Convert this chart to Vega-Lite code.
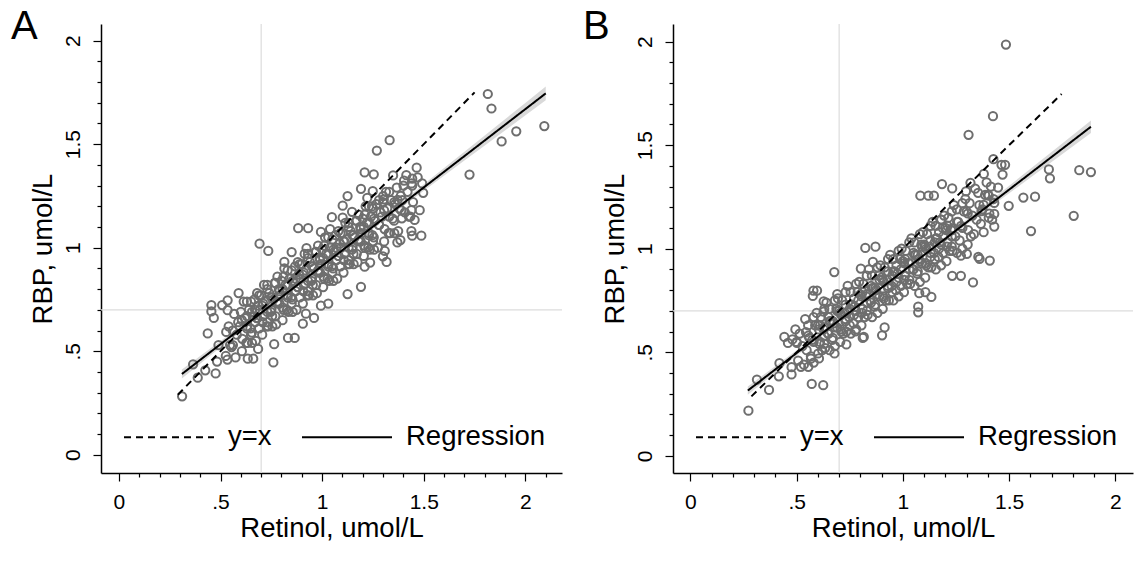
{
"$schema":"https://vega.github.io/schema/vega-lite/v6.json",
"background":"white",
"padding":{"left":11,"top":7,"right":8,"bottom":10},
"spacing":19,
"datasets":{
"ptsA":[
{"x":0.54,"y":0.62},{"x":0.547,"y":0.53},{"x":0.534,"y":0.46},{"x":0.56,"y":0.60},{"x":0.567,"y":0.68},{"x":0.554,"y":0.52},{"x":0.58,"y":0.58},{"x":0.587,"y":0.64},{"x":0.574,"y":0.47},{"x":0.60,"y":0.69},{"x":0.607,"y":0.56},{"x":0.594,"y":0.62},{"x":0.62,"y":0.66},{"x":0.627,"y":0.54},{"x":0.614,"y":0.74},{"x":0.64,"y":0.70},{"x":0.647,"y":0.61},{"x":0.634,"y":0.54},{"x":0.66,"y":0.67},{"x":0.667,"y":0.75},{"x":0.654,"y":0.59},{"x":0.68,"y":0.66},{"x":0.687,"y":0.72},{"x":0.674,"y":0.55},{"x":0.70,"y":0.77},{"x":0.707,"y":0.64},{"x":0.694,"y":0.70},{"x":0.72,"y":0.74},{"x":0.727,"y":0.62},{"x":0.714,"y":0.82},{"x":0.74,"y":0.78},{"x":0.747,"y":0.69},{"x":0.734,"y":0.62},{"x":0.76,"y":0.75},{"x":0.767,"y":0.83},{"x":0.754,"y":0.67},{"x":0.78,"y":0.74},{"x":0.787,"y":0.80},{"x":0.774,"y":0.63},{"x":0.80,"y":0.84},{"x":0.807,"y":0.71},{"x":0.794,"y":0.77},{"x":0.82,"y":0.82},{"x":0.827,"y":0.70},{"x":0.814,"y":0.90},{"x":0.84,"y":0.85},{"x":0.847,"y":0.76},{"x":0.834,"y":0.69},{"x":0.86,"y":0.83},{"x":0.867,"y":0.91},{"x":0.854,"y":0.75},{"x":0.88,"y":0.81},{"x":0.887,"y":0.87},{"x":0.874,"y":0.70},{"x":0.90,"y":0.92},{"x":0.907,"y":0.79},{"x":0.894,"y":0.85},{"x":0.92,"y":0.89},{"x":0.927,"y":0.77},{"x":0.914,"y":0.97},{"x":0.94,"y":0.93},{"x":0.947,"y":0.84},{"x":0.934,"y":0.77},{"x":0.96,"y":0.90},{"x":0.967,"y":0.98},{"x":0.954,"y":0.82},{"x":0.98,"y":0.89},{"x":0.987,"y":0.95},{"x":0.974,"y":0.78},{"x":1.00,"y":0.99},{"x":1.007,"y":0.86},{"x":0.994,"y":0.92},{"x":1.02,"y":0.97},{"x":1.027,"y":0.85},{"x":1.014,"y":1.05},{"x":1.04,"y":1.00},{"x":1.047,"y":0.91},{"x":1.034,"y":0.84},{"x":1.06,"y":0.98},{"x":1.067,"y":1.06},{"x":1.054,"y":0.90},{"x":1.08,"y":0.96},{"x":1.087,"y":1.02},{"x":1.074,"y":0.85},{"x":1.10,"y":1.07},{"x":1.107,"y":0.94},{"x":1.094,"y":1.00},{"x":1.12,"y":1.04},{"x":1.127,"y":0.92},{"x":1.114,"y":1.12},{"x":1.14,"y":1.08},{"x":1.147,"y":0.99},{"x":1.134,"y":0.92},{"x":1.16,"y":1.05},{"x":1.167,"y":1.13},{"x":1.154,"y":0.97},{"x":1.18,"y":1.04},{"x":1.187,"y":1.10},{"x":1.174,"y":0.93},{"x":1.20,"y":1.14},{"x":1.207,"y":1.01},{"x":1.194,"y":1.07},{"x":1.22,"y":1.12},{"x":1.227,"y":1.00},{"x":1.214,"y":1.20},{"x":1.24,"y":1.15},{"x":1.247,"y":1.06},{"x":1.234,"y":0.99},{"x":1.26,"y":1.13},{"x":1.267,"y":1.21},{"x":1.254,"y":1.05},{"x":1.28,"y":1.11},{"x":1.287,"y":1.17},{"x":1.274,"y":1.00},{"x":1.30,"y":1.22},{"x":1.307,"y":1.09},{"x":1.294,"y":1.15},{"x":1.32,"y":1.19},{"x":1.327,"y":1.07},{"x":1.314,"y":1.27},{"x":1.34,"y":1.23},{"x":1.347,"y":1.14},{"x":1.334,"y":1.07},{"x":1.36,"y":1.21},{"x":1.367,"y":1.29},{"x":1.354,"y":1.13},{"x":1.38,"y":1.19},{"x":1.387,"y":1.25},{"x":1.374,"y":1.08},{"x":1.40,"y":1.30},{"x":1.407,"y":1.17},{"x":1.394,"y":1.23},{"x":1.42,"y":1.27},{"x":1.427,"y":1.15},{"x":1.414,"y":1.35},{"x":1.44,"y":1.31},{"x":1.447,"y":1.22},{"x":1.434,"y":1.15},
{"x":0.63,"y":0.61},{"x":0.63,"y":0.67},{"x":0.65,"y":0.58},{"x":0.65,"y":0.74},{"x":0.67,"y":0.64},{"x":0.67,"y":0.70},{"x":0.69,"y":0.61},{"x":0.69,"y":0.77},{"x":0.71,"y":0.67},{"x":0.71,"y":0.73},{"x":0.73,"y":0.64},{"x":0.73,"y":0.80},{"x":0.75,"y":0.70},{"x":0.75,"y":0.76},{"x":0.77,"y":0.67},{"x":0.77,"y":0.83},{"x":0.79,"y":0.73},{"x":0.79,"y":0.79},{"x":0.81,"y":0.70},{"x":0.81,"y":0.86},{"x":0.83,"y":0.76},{"x":0.83,"y":0.82},{"x":0.85,"y":0.73},{"x":0.85,"y":0.89},{"x":0.87,"y":0.79},{"x":0.87,"y":0.85},{"x":0.89,"y":0.76},{"x":0.89,"y":0.92},{"x":0.91,"y":0.82},{"x":0.91,"y":0.88},{"x":0.93,"y":0.79},{"x":0.93,"y":0.95},{"x":0.95,"y":0.85},{"x":0.95,"y":0.91},{"x":0.97,"y":0.82},{"x":0.97,"y":0.98},{"x":0.99,"y":0.88},{"x":0.99,"y":0.94},{"x":1.01,"y":0.85},{"x":1.01,"y":1.01},{"x":1.03,"y":0.91},{"x":1.03,"y":0.97},{"x":1.05,"y":0.88},{"x":1.05,"y":1.04},{"x":1.07,"y":0.94},{"x":1.07,"y":1.00},{"x":1.09,"y":0.91},{"x":1.09,"y":1.07},{"x":1.11,"y":0.97},{"x":1.11,"y":1.03},{"x":1.13,"y":0.94},{"x":1.13,"y":1.10},{"x":1.15,"y":1.00},{"x":1.15,"y":1.06},{"x":1.17,"y":0.97},{"x":1.17,"y":1.13},{"x":1.19,"y":1.03},{"x":1.19,"y":1.09},{"x":1.21,"y":1.00},{"x":1.21,"y":1.16},{"x":1.23,"y":1.06},{"x":1.23,"y":1.12},{"x":1.25,"y":1.03},{"x":1.25,"y":1.19},
{"x":0.605,"y":0.65},{"x":0.605,"y":0.50},{"x":0.63,"y":0.74},{"x":0.63,"y":0.62},{"x":0.655,"y":0.69},{"x":0.655,"y":0.54},{"x":0.68,"y":0.78},{"x":0.68,"y":0.66},{"x":0.705,"y":0.72},{"x":0.705,"y":0.58},{"x":0.73,"y":0.82},{"x":0.73,"y":0.69},{"x":0.755,"y":0.76},{"x":0.755,"y":0.62},{"x":0.78,"y":0.86},{"x":0.78,"y":0.73},{"x":0.805,"y":0.80},{"x":0.805,"y":0.65},{"x":0.83,"y":0.89},{"x":0.83,"y":0.77},{"x":0.855,"y":0.84},{"x":0.855,"y":0.69},{"x":0.88,"y":0.93},{"x":0.88,"y":0.81},{"x":0.905,"y":0.87},{"x":0.905,"y":0.73},{"x":0.93,"y":0.97},{"x":0.93,"y":0.84},{"x":0.955,"y":0.91},{"x":0.955,"y":0.77},{"x":0.98,"y":1.01},{"x":0.98,"y":0.88},{"x":1.005,"y":0.95},{"x":1.005,"y":0.81},{"x":1.03,"y":1.05},{"x":1.03,"y":0.92},{"x":1.055,"y":0.99},{"x":1.055,"y":0.84},{"x":1.08,"y":1.08},{"x":1.08,"y":0.96},{"x":1.105,"y":1.03},{"x":1.105,"y":0.88},{"x":1.13,"y":1.12},{"x":1.13,"y":1.00},{"x":1.155,"y":1.06},{"x":1.155,"y":0.92},{"x":1.18,"y":1.16},{"x":1.18,"y":1.03},{"x":1.205,"y":1.10},{"x":1.205,"y":0.96},{"x":1.23,"y":1.20},{"x":1.23,"y":1.07},{"x":1.255,"y":1.14},{"x":1.255,"y":0.99},{"x":1.28,"y":1.23},{"x":1.28,"y":1.11},{"x":1.305,"y":1.18},{"x":1.305,"y":1.03},{"x":1.33,"y":1.27},{"x":1.33,"y":1.15},{"x":1.355,"y":1.22},{"x":1.355,"y":1.07},
{"x":1.815,"y":1.742},{"x":1.833,"y":1.672},{"x":2.093,"y":1.587},{"x":1.955,"y":1.562},{"x":1.883,"y":1.513},{"x":1.725,"y":1.353},{"x":1.332,"y":1.519},{"x":1.269,"y":1.469},{"x":1.209,"y":1.363},{"x":1.254,"y":1.354},{"x":1.349,"y":1.349},{"x":1.465,"y":1.386},{"x":1.443,"y":1.333},{"x":1.47,"y":1.34},{"x":1.403,"y":1.324},{"x":1.191,"y":1.284},{"x":1.249,"y":1.273},{"x":1.492,"y":1.31},{"x":1.497,"y":1.265},{"x":1.443,"y":1.30},{"x":1.125,"y":1.249},{"x":1.222,"y":1.24},{"x":1.30,"y":1.249},{"x":1.303,"y":1.233},{"x":1.101,"y":1.203},{"x":1.147,"y":1.173},{"x":1.245,"y":1.199},{"x":1.371,"y":1.231},{"x":1.389,"y":1.18},{"x":1.439,"y":1.181},{"x":1.48,"y":1.181},{"x":1.455,"y":1.134},{"x":1.392,"y":1.142},{"x":1.439,"y":1.08},{"x":1.488,"y":1.058},{"x":1.443,"y":1.058},{"x":1.385,"y":1.037},{"x":1.37,"y":1.025},{"x":1.308,"y":0.984},{"x":1.299,"y":0.958},{"x":1.317,"y":0.931},{"x":1.236,"y":0.928},{"x":1.209,"y":0.908},{"x":1.191,"y":0.811},{"x":1.125,"y":0.776},{"x":1.048,"y":1.147},{"x":1.101,"y":1.145},{"x":0.994,"y":1.076},{"x":1.039,"y":1.09},{"x":0.882,"y":1.094},{"x":0.931,"y":1.094},{"x":0.692,"y":1.019},{"x":0.735,"y":0.984},{"x":0.85,"y":0.979},{"x":0.923,"y":0.998},{"x":0.814,"y":0.931},{"x":0.589,"y":0.781},{"x":0.508,"y":0.723},{"x":0.535,"y":0.746},{"x":0.455,"y":0.723},{"x":0.535,"y":0.698},{"x":0.455,"y":0.692},{"x":0.467,"y":0.661},{"x":0.437,"y":0.586},{"x":0.528,"y":0.593},{"x":0.365,"y":0.437},{"x":0.388,"y":0.372},{"x":0.311,"y":0.282},{"x":0.425,"y":0.408},{"x":0.476,"y":0.393},{"x":0.483,"y":0.45},{"x":0.49,"y":0.53},{"x":0.526,"y":0.477},{"x":0.561,"y":0.53},{"x":0.634,"y":0.464},{"x":0.661,"y":0.464},{"x":0.685,"y":0.511},{"x":0.76,"y":0.446},{"x":0.764,"y":0.534},{"x":0.832,"y":0.564},{"x":0.865,"y":0.564},{"x":0.905,"y":0.633},{"x":0.96,"y":0.661},{"x":0.994,"y":0.72},{"x":1.03,"y":0.73},{"x":0.92,"y":0.681}
],
"ptsB":[
{"x":0.50,"y":0.55},{"x":0.507,"y":0.46},{"x":0.494,"y":0.61},{"x":0.52,"y":0.43},{"x":0.527,"y":0.53},{"x":0.514,"y":0.59},{"x":0.54,"y":0.66},{"x":0.547,"y":0.51},{"x":0.534,"y":0.44},{"x":0.56,"y":0.57},{"x":0.567,"y":0.48},{"x":0.554,"y":0.63},{"x":0.58,"y":0.45},{"x":0.587,"y":0.63},{"x":0.574,"y":0.56},{"x":0.60,"y":0.63},{"x":0.607,"y":0.54},{"x":0.594,"y":0.69},{"x":0.62,"y":0.51},{"x":0.627,"y":0.61},{"x":0.614,"y":0.67},{"x":0.64,"y":0.74},{"x":0.647,"y":0.59},{"x":0.634,"y":0.52},{"x":0.66,"y":0.65},{"x":0.667,"y":0.56},{"x":0.654,"y":0.71},{"x":0.68,"y":0.53},{"x":0.687,"y":0.71},{"x":0.674,"y":0.64},{"x":0.70,"y":0.70},{"x":0.707,"y":0.61},{"x":0.694,"y":0.76},{"x":0.72,"y":0.59},{"x":0.727,"y":0.69},{"x":0.714,"y":0.75},{"x":0.74,"y":0.82},{"x":0.747,"y":0.67},{"x":0.734,"y":0.60},{"x":0.76,"y":0.73},{"x":0.767,"y":0.64},{"x":0.754,"y":0.79},{"x":0.78,"y":0.61},{"x":0.787,"y":0.79},{"x":0.774,"y":0.72},{"x":0.80,"y":0.78},{"x":0.807,"y":0.69},{"x":0.794,"y":0.84},{"x":0.82,"y":0.67},{"x":0.827,"y":0.77},{"x":0.814,"y":0.83},{"x":0.84,"y":0.90},{"x":0.847,"y":0.75},{"x":0.834,"y":0.68},{"x":0.86,"y":0.81},{"x":0.867,"y":0.72},{"x":0.854,"y":0.87},{"x":0.88,"y":0.69},{"x":0.887,"y":0.87},{"x":0.874,"y":0.80},{"x":0.90,"y":0.86},{"x":0.907,"y":0.77},{"x":0.894,"y":0.92},{"x":0.92,"y":0.75},{"x":0.927,"y":0.85},{"x":0.914,"y":0.91},{"x":0.94,"y":0.97},{"x":0.947,"y":0.82},{"x":0.934,"y":0.75},{"x":0.96,"y":0.89},{"x":0.967,"y":0.80},{"x":0.954,"y":0.95},{"x":0.98,"y":0.77},{"x":0.987,"y":0.95},{"x":0.974,"y":0.88},{"x":1.00,"y":0.94},{"x":1.007,"y":0.85},{"x":0.994,"y":1.00},{"x":1.02,"y":0.83},{"x":1.027,"y":0.93},{"x":1.014,"y":0.99},{"x":1.04,"y":1.05},{"x":1.047,"y":0.90},{"x":1.034,"y":0.83},{"x":1.06,"y":0.97},{"x":1.067,"y":0.88},{"x":1.054,"y":1.03},{"x":1.08,"y":0.84},{"x":1.087,"y":1.02},{"x":1.074,"y":0.95},{"x":1.10,"y":1.02},{"x":1.107,"y":0.93},{"x":1.094,"y":1.08},{"x":1.12,"y":0.91},{"x":1.127,"y":1.01},{"x":1.114,"y":1.07},{"x":1.14,"y":1.13},{"x":1.147,"y":0.98},{"x":1.134,"y":0.91},{"x":1.16,"y":1.05},{"x":1.167,"y":0.96},{"x":1.154,"y":1.11},{"x":1.18,"y":0.92},{"x":1.187,"y":1.10},{"x":1.174,"y":1.03},{"x":1.20,"y":1.10},{"x":1.207,"y":1.01},{"x":1.194,"y":1.16},{"x":1.22,"y":0.99},{"x":1.227,"y":1.09},{"x":1.214,"y":1.15},{"x":1.24,"y":1.21},{"x":1.247,"y":1.06},{"x":1.234,"y":0.99},{"x":1.26,"y":1.13},{"x":1.267,"y":1.04},{"x":1.254,"y":1.19},{"x":1.28,"y":1.00},{"x":1.287,"y":1.18},{"x":1.274,"y":1.11},{"x":1.30,"y":1.18},{"x":1.307,"y":1.09},{"x":1.294,"y":1.24},{"x":1.32,"y":1.06},{"x":1.327,"y":1.16},{"x":1.314,"y":1.22},{"x":1.34,"y":1.29},{"x":1.347,"y":1.14},{"x":1.334,"y":1.07},{"x":1.36,"y":1.21},{"x":1.367,"y":1.12},{"x":1.354,"y":1.27},{"x":1.38,"y":1.08},{"x":1.387,"y":1.26},{"x":1.374,"y":1.19},{"x":1.40,"y":1.26},{"x":1.407,"y":1.17},{"x":1.394,"y":1.32},{"x":1.42,"y":1.14},{"x":1.427,"y":1.24},{"x":1.414,"y":1.30},
{"x":0.61,"y":0.55},{"x":0.61,"y":0.63},{"x":0.63,"y":0.62},{"x":0.63,"y":0.54},{"x":0.65,"y":0.59},{"x":0.65,"y":0.67},{"x":0.67,"y":0.65},{"x":0.67,"y":0.57},{"x":0.69,"y":0.62},{"x":0.69,"y":0.70},{"x":0.71,"y":0.68},{"x":0.71,"y":0.60},{"x":0.73,"y":0.65},{"x":0.73,"y":0.73},{"x":0.75,"y":0.71},{"x":0.75,"y":0.63},{"x":0.77,"y":0.68},{"x":0.77,"y":0.76},{"x":0.79,"y":0.75},{"x":0.79,"y":0.67},{"x":0.81,"y":0.71},{"x":0.81,"y":0.79},{"x":0.83,"y":0.78},{"x":0.83,"y":0.70},{"x":0.85,"y":0.74},{"x":0.85,"y":0.82},{"x":0.87,"y":0.81},{"x":0.87,"y":0.73},{"x":0.89,"y":0.77},{"x":0.89,"y":0.85},{"x":0.91,"y":0.84},{"x":0.91,"y":0.76},{"x":0.93,"y":0.81},{"x":0.93,"y":0.89},{"x":0.95,"y":0.87},{"x":0.95,"y":0.79},{"x":0.97,"y":0.84},{"x":0.97,"y":0.92},{"x":0.99,"y":0.90},{"x":0.99,"y":0.82},{"x":1.01,"y":0.87},{"x":1.01,"y":0.95},{"x":1.03,"y":0.93},{"x":1.03,"y":0.85},{"x":1.05,"y":0.90},{"x":1.05,"y":0.98},{"x":1.07,"y":0.97},{"x":1.07,"y":0.89},{"x":1.09,"y":0.93},{"x":1.09,"y":1.01},{"x":1.11,"y":1.00},{"x":1.11,"y":0.92},{"x":1.13,"y":0.96},{"x":1.13,"y":1.04},{"x":1.15,"y":1.03},{"x":1.15,"y":0.95},{"x":1.17,"y":1.00},{"x":1.17,"y":1.08},{"x":1.19,"y":1.06},{"x":1.19,"y":0.98},{"x":1.21,"y":1.03},{"x":1.21,"y":1.11},{"x":1.23,"y":1.09},{"x":1.23,"y":1.01},
{"x":0.555,"y":0.58},{"x":0.555,"y":0.43},{"x":0.58,"y":0.67},{"x":0.58,"y":0.55},{"x":0.605,"y":0.61},{"x":0.605,"y":0.47},{"x":0.63,"y":0.71},{"x":0.63,"y":0.58},{"x":0.655,"y":0.65},{"x":0.655,"y":0.51},{"x":0.68,"y":0.75},{"x":0.68,"y":0.62},{"x":0.705,"y":0.69},{"x":0.705,"y":0.55},{"x":0.73,"y":0.79},{"x":0.73,"y":0.66},{"x":0.755,"y":0.73},{"x":0.755,"y":0.59},{"x":0.78,"y":0.83},{"x":0.78,"y":0.70},{"x":0.805,"y":0.77},{"x":0.805,"y":0.63},{"x":0.83,"y":0.87},{"x":0.83,"y":0.74},{"x":0.855,"y":0.81},{"x":0.855,"y":0.67},{"x":0.88,"y":0.91},{"x":0.88,"y":0.78},{"x":0.905,"y":0.85},{"x":0.905,"y":0.71},{"x":0.93,"y":0.95},{"x":0.93,"y":0.82},{"x":0.955,"y":0.89},{"x":0.955,"y":0.75},{"x":0.98,"y":0.99},{"x":0.98,"y":0.86},{"x":1.005,"y":0.93},{"x":1.005,"y":0.79},{"x":1.03,"y":1.03},{"x":1.03,"y":0.90},{"x":1.055,"y":0.97},{"x":1.055,"y":0.82},{"x":1.08,"y":1.07},{"x":1.08,"y":0.94},{"x":1.105,"y":1.01},{"x":1.105,"y":0.86},{"x":1.13,"y":1.11},{"x":1.13,"y":0.98},{"x":1.155,"y":1.05},{"x":1.155,"y":0.90},{"x":1.18,"y":1.14},{"x":1.18,"y":1.02},{"x":1.205,"y":1.09},{"x":1.205,"y":0.94},{"x":1.23,"y":1.18},{"x":1.23,"y":1.06},{"x":1.255,"y":1.13},{"x":1.255,"y":0.98},{"x":1.28,"y":1.22},{"x":1.28,"y":1.10},{"x":1.305,"y":1.17},{"x":1.305,"y":1.02},
{"x":1.485,"y":1.986},{"x":1.424,"y":1.64},{"x":1.309,"y":1.55},{"x":1.426,"y":1.432},{"x":1.464,"y":1.405},{"x":1.481,"y":1.405},{"x":1.469,"y":1.358},{"x":1.381,"y":1.361},{"x":1.687,"y":1.383},{"x":1.692,"y":1.34},{"x":1.83,"y":1.379},{"x":1.885,"y":1.37},{"x":1.804,"y":1.159},{"x":1.567,"y":1.247},{"x":1.622,"y":1.251},{"x":1.603,"y":1.085},{"x":1.498,"y":1.207},{"x":1.43,"y":1.168},{"x":1.43,"y":1.107},{"x":1.404,"y":1.15},{"x":1.37,"y":1.182},{"x":1.409,"y":0.943},{"x":1.361,"y":0.951},{"x":1.355,"y":0.96},{"x":1.33,"y":0.837},{"x":1.273,"y":0.869},{"x":1.232,"y":0.869},{"x":1.301,"y":0.975},{"x":1.273,"y":0.966},{"x":1.184,"y":1.312},{"x":1.232,"y":1.291},{"x":1.146,"y":1.256},{"x":1.082,"y":1.256},{"x":1.12,"y":1.256},{"x":1.318,"y":1.318},{"x":1.297,"y":1.277},{"x":1.38,"y":1.212},{"x":1.43,"y":1.221},{"x":1.404,"y":1.256},{"x":1.448,"y":1.295},{"x":1.077,"y":0.785},{"x":1.072,"y":0.693},{"x":1.072,"y":0.72},{"x":1.134,"y":0.767},{"x":1.106,"y":0.79},{"x":0.902,"y":0.582},{"x":0.914,"y":0.62},{"x":0.816,"y":0.574},{"x":0.823,"y":1.004},{"x":0.871,"y":1.01},{"x":0.859,"y":0.936},{"x":0.802,"y":0.904},{"x":0.677,"y":0.887},{"x":0.691,"y":0.781},{"x":0.576,"y":0.772},{"x":0.579,"y":0.798},{"x":0.596,"y":0.798},{"x":0.627,"y":0.746},{"x":0.442,"y":0.574},{"x":0.459,"y":0.545},{"x":0.48,"y":0.562},{"x":0.501,"y":0.545},{"x":0.544,"y":0.597},{"x":0.419,"y":0.447},{"x":0.476,"y":0.393},{"x":0.476,"y":0.428},{"x":0.416,"y":0.384},{"x":0.37,"y":0.318},{"x":0.313,"y":0.368},{"x":0.273,"y":0.218},{"x":0.571,"y":0.347},{"x":0.625,"y":0.341},{"x":0.567,"y":0.469},{"x":0.601,"y":0.494},{"x":0.678,"y":0.494},{"x":0.734,"y":0.538},{"x":0.777,"y":0.601},{"x":0.811,"y":0.569},{"x":0.627,"y":0.696},{"x":1.18,"y":1.141},{"x":1.232,"y":1.098}
],
"fitA":[{"x":0.31,"lo":0.368,"hi":0.412},{"x":0.6,"lo":0.596,"hi":0.622},{"x":0.95,"lo":0.866,"hi":0.882},{"x":1.3,"lo":1.128,"hi":1.150},{"x":1.7,"lo":1.421,"hi":1.463},{"x":2.1,"lo":1.712,"hi":1.778}],
"fitB":[{"x":0.27,"lo":0.295,"hi":0.335},{"x":0.6,"lo":0.564,"hi":0.586},{"x":0.9,"lo":0.804,"hi":0.820},{"x":1.2,"lo":1.039,"hi":1.059},{"x":1.55,"lo":1.305,"hi":1.345},{"x":1.885,"lo":1.559,"hi":1.619}],
"linesA":[{"s":"y=x","x":0.29,"y":0.29},{"s":"y=x","x":1.75,"y":1.75},{"s":"Regression","x":0.31,"y":0.39},{"s":"Regression","x":2.1,"y":1.745}],
"linesB":[{"s":"y=x","x":0.287,"y":0.287},{"s":"y=x","x":1.747,"y":1.747},{"s":"Regression","x":0.27,"y":0.315},{"s":"Regression","x":1.885,"y":1.589}]
},
"resolve":{"scale":{"strokeDash":"independent"},"legend":{"strokeDash":"independent"}},
"hconcat":[
{
"width":461,"height":449,
"title":{"text":"A","anchor":"start","frame":"bounds","fontSize":40,"fontWeight":"normal","font":"Liberation Sans","color":"#000","offset":-24,"dx":-18},
"layer":[
{"data":{"values":[{}]},"mark":{"type":"rule","color":"#dcdcdc","strokeWidth":1.2},
 "encoding":{"x":{"datum":0.7,"type":"quantitative","scale":{"domain":[-0.088,2.18],"nice":false,"zero":false},"axis":{"orient":"bottom","values":[0.1,0.2,0.3,0.4,0.6,0.7,0.8,0.9,1.1,1.2,1.3,1.4,1.6,1.7,1.8,1.9,2.1],"labels":false,"title":null,"tickSize":4,"domain":false}}}},
{"data":{"values":[{}]},"mark":{"type":"rule","color":"#dcdcdc","strokeWidth":1.2},
 "encoding":{"y":{"datum":0.7,"type":"quantitative","scale":{"domain":[-0.088,2.08],"nice":false,"zero":false},"axis":{"orient":"left","values":[0.1,0.2,0.3,0.4,0.6,0.7,0.8,0.9,1.1,1.2,1.3,1.4,1.6,1.7,1.8,1.9],"labels":false,"title":null,"tickSize":4,"domain":false}}}},
{"data":{"name":"fitA"},"mark":{"type":"area","color":"#d9d9d9","interpolate":"monotone"},
 "encoding":{"x":{"field":"x","type":"quantitative","scale":{"domain":[-0.088,2.18],"nice":false,"zero":false},"axis":null},"y":{"field":"lo","type":"quantitative","scale":{"domain":[-0.088,2.08],"nice":false,"zero":false},"axis":null},"y2":{"field":"hi"}}},
{"data":{"name":"ptsA"},"mark":{"type":"point","shape":"circle","filled":false,"color":"#6e6e6e","size":68,"strokeWidth":2,"opacity":1},
 "encoding":{"x":{"field":"x","type":"quantitative","scale":{"domain":[-0.088,2.18],"nice":false,"zero":false},"axis":{"orient":"bottom","values":[0,0.5,1,1.5,2],"labelExpr":"datum.value == 0.5 ? '.5' : datum.value == 1.5 ? '1.5' : format(datum.value, 'd')","title":"Retinol, umol/L","tickSize":8,"labelPadding":10,"titlePadding":2}},
 "y":{"field":"y","type":"quantitative","scale":{"domain":[-0.088,2.08],"nice":false,"zero":false},"axis":{"orient":"left","values":[0,0.5,1,1.5,2],"labelExpr":"datum.value == 0.5 ? '.5' : datum.value == 1.5 ? '1.5' : format(datum.value, 'd')","title":"RBP, umol/L","labelAngle":-90,"labelAlign":"center","labelBaseline":"alphabetic","tickSize":8,"labelPadding":14,"titlePadding":5}}}},
{"data":{"name":"linesA"},"mark":{"type":"line","color":"#000","strokeWidth":2},
 "encoding":{"x":{"field":"x","type":"quantitative","scale":{"domain":[-0.088,2.18],"nice":false,"zero":false},"axis":null},"y":{"field":"y","type":"quantitative","scale":{"domain":[-0.088,2.08],"nice":false,"zero":false},"axis":null},
 "strokeDash":{"field":"s","type":"nominal","scale":{"domain":["y=x","Regression"],"range":[[7,5],[1,0]]},
  "legend":{"orient":"none","legendX":22,"legendY":367,"direction":"horizontal","title":null,"symbolType":"stroke","symbolSize":8100,"symbolStrokeWidth":2,"symbolStrokeColor":"#000","labelFontSize":27.5,"labelFont":"Liberation Sans","labelColor":"#000","labelOffset":13,"columnPadding":26,"padding":0}}}}
],
"resolve":{"axis":{"x":"independent","y":"independent"}}
},
{
"width":460,"height":449,
"title":{"text":"B","anchor":"start","frame":"bounds","fontSize":40,"fontWeight":"normal","font":"Liberation Sans","color":"#000","offset":-24,"dx":-18},
"layer":[
{"data":{"values":[{}]},"mark":{"type":"rule","color":"#dcdcdc","strokeWidth":1.2},
 "encoding":{"x":{"datum":0.7,"type":"quantitative","scale":{"domain":[-0.082,2.083],"nice":false,"zero":false},"axis":{"orient":"bottom","values":[0.1,0.2,0.3,0.4,0.6,0.7,0.8,0.9,1.1,1.2,1.3,1.4,1.6,1.7,1.8,1.9],"labels":false,"title":null,"tickSize":4,"domain":false}}}},
{"data":{"values":[{}]},"mark":{"type":"rule","color":"#dcdcdc","strokeWidth":1.2},
 "encoding":{"y":{"datum":0.7,"type":"quantitative","scale":{"domain":[-0.083,2.085],"nice":false,"zero":false},"axis":{"orient":"left","values":[0.1,0.2,0.3,0.4,0.6,0.7,0.8,0.9,1.1,1.2,1.3,1.4,1.6,1.7,1.8,1.9],"labels":false,"title":null,"tickSize":4,"domain":false}}}},
{"data":{"name":"fitB"},"mark":{"type":"area","color":"#d9d9d9","interpolate":"monotone"},
 "encoding":{"x":{"field":"x","type":"quantitative","scale":{"domain":[-0.082,2.083],"nice":false,"zero":false},"axis":null},"y":{"field":"lo","type":"quantitative","scale":{"domain":[-0.083,2.085],"nice":false,"zero":false},"axis":null},"y2":{"field":"hi"}}},
{"data":{"name":"ptsB"},"mark":{"type":"point","shape":"circle","filled":false,"color":"#6e6e6e","size":68,"strokeWidth":2,"opacity":1},
 "encoding":{"x":{"field":"x","type":"quantitative","scale":{"domain":[-0.082,2.083],"nice":false,"zero":false},"axis":{"orient":"bottom","values":[0,0.5,1,1.5,2],"labelExpr":"datum.value == 0.5 ? '.5' : datum.value == 1.5 ? '1.5' : format(datum.value, 'd')","title":"Retinol, umol/L","tickSize":8,"labelPadding":10,"titlePadding":2}},
 "y":{"field":"y","type":"quantitative","scale":{"domain":[-0.083,2.085],"nice":false,"zero":false},"axis":{"orient":"left","values":[0,0.5,1,1.5,2],"labelExpr":"datum.value == 0.5 ? '.5' : datum.value == 1.5 ? '1.5' : format(datum.value, 'd')","title":"RBP, umol/L","labelAngle":-90,"labelAlign":"center","labelBaseline":"alphabetic","tickSize":8,"labelPadding":14,"titlePadding":5}}}},
{"data":{"name":"linesB"},"mark":{"type":"line","color":"#000","strokeWidth":2},
 "encoding":{"x":{"field":"x","type":"quantitative","scale":{"domain":[-0.082,2.083],"nice":false,"zero":false},"axis":null},"y":{"field":"y","type":"quantitative","scale":{"domain":[-0.083,2.085],"nice":false,"zero":false},"axis":null},
 "strokeDash":{"field":"s","type":"nominal","scale":{"domain":["y=x","Regression"],"range":[[7,5],[1,0]]},
  "legend":{"orient":"none","legendX":22,"legendY":367,"direction":"horizontal","title":null,"symbolType":"stroke","symbolSize":8100,"symbolStrokeWidth":2,"symbolStrokeColor":"#000","labelFontSize":27.5,"labelFont":"Liberation Sans","labelColor":"#000","labelOffset":13,"columnPadding":26,"padding":0}}}}
],
"resolve":{"axis":{"x":"independent","y":"independent"}}
}
],
"config":{
"view":{"stroke":null},
"font":"Liberation Sans",
"axis":{"grid":false,"domainColor":"#000","domainWidth":1.5,"tickColor":"#000","tickWidth":1.2,"labelColor":"#000","titleColor":"#000","labelFont":"Liberation Sans","titleFont":"Liberation Sans","labelFontSize":21,"titleFontSize":27.5,"titleFontWeight":"normal"}
}
}
